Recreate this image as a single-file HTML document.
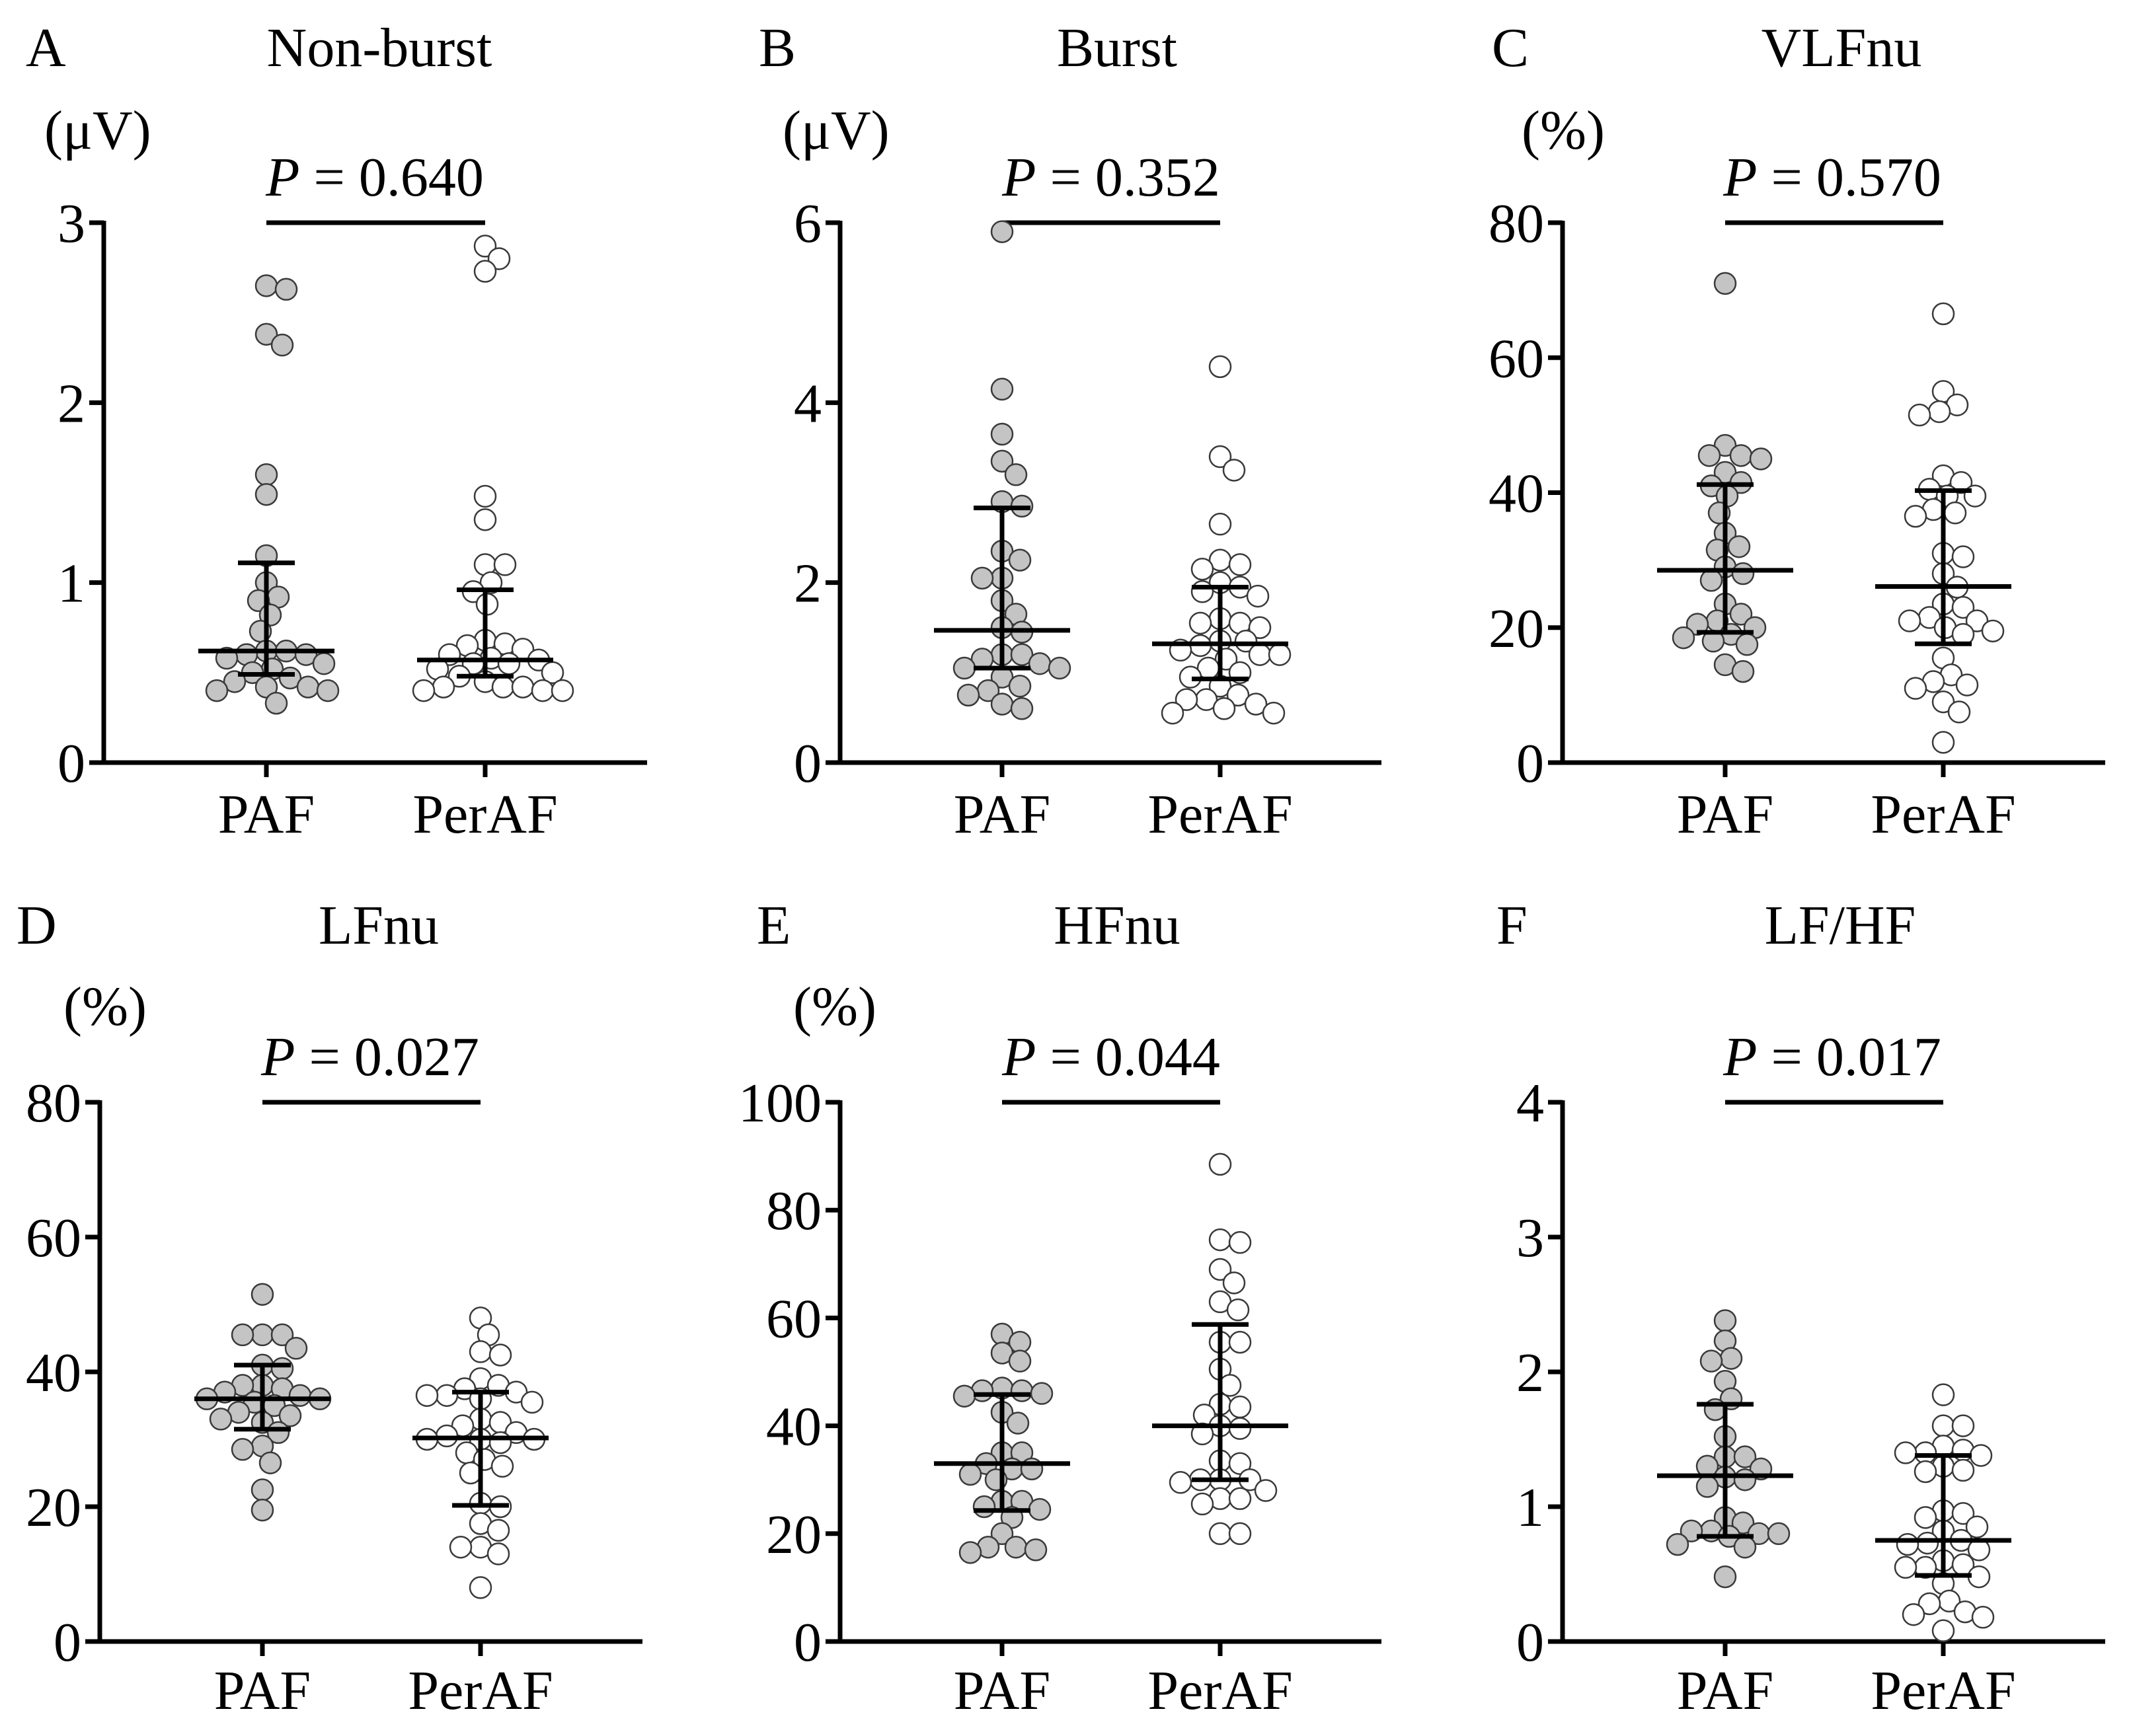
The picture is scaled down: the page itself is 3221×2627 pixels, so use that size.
<!DOCTYPE html>
<html><head><meta charset="utf-8">
<style>
html,body{margin:0;padding:0;background:#fff;}
svg{display:block;}
text{font-family:"Liberation Serif",serif;fill:#000;}
</style></head>
<body>
<svg id="fig" width="3221" height="2627" viewBox="0 0 3221 2627" xmlns="http://www.w3.org/2000/svg"></svg>
<script>
// ---- data ----
const categories = ["PAF", "PerAF"];
const panelLetters = ["A","B","C","D","E","F"];
const panelTitles = ["Non-burst","Burst","VLFnu","LFnu","HFnu","LF/HF"];
const panelUnits = ["(\u03bcV)","(\u03bcV)","(%)","(%)","(%)",""];
const pValues = ["0.640","0.352","0.570","0.027","0.044","0.017"];
const yTicksA = [0,1,2,3];
const yTicksB = [0,2,4,6];
const yTicksC = [0,20,40,60,80];
const yTicksD = [0,20,40,60,80];
const yTicksE = [0,20,40,60,80,100];
const yTicksF = [0,1,2,3,4];

const pafA = [2.65,2.63,2.38,2.32,1.6,1.49,1.15,1.0,0.92,0.9,0.82,0.73,0.6,0.62,0.62,0.6,0.58,0.55,0.52,0.5,0.47,0.45,0.42,0.42,0.4,0.4,0.33];
const perA = [2.87,2.8,2.73,1.48,1.35,1.1,1.1,1.0,0.95,0.88,0.68,0.65,0.66,0.63,0.6,0.58,0.57,0.55,0.55,0.52,0.5,0.48,0.45,0.42,0.42,0.4,0.4,0.4,0.42];
const pafB = [5.9,4.15,3.65,3.35,3.2,2.9,2.85,2.35,2.25,2.05,2.05,1.8,1.65,1.5,1.45,1.2,1.2,1.15,1.1,1.05,1.05,0.95,0.85,0.8,0.75,0.65,0.6];
const perB = [4.4,3.4,3.25,2.65,2.25,2.2,2.15,2.0,1.95,1.9,1.85,1.6,1.55,1.55,1.5,1.35,1.35,1.3,1.25,1.2,1.2,1.15,1.05,1.0,0.95,0.85,0.75,0.7,0.7,0.65,0.6,0.55,0.55];
const pafC = [71,47,45.5,45.5,45,43,41.5,41,39.5,37,34,32,31.5,29,28,27,23.5,22,21,20.5,20,19,18.5,18,17.5,14.5,13.5];
const perC = [66.5,55,53,52,51.5,42.5,41.5,40.5,39.5,39.5,37.5,37,36.5,31,30.5,28,26,23.5,23,21.5,21,21,20,19.5,19,15.5,13,12,11.5,11,9,7.5,3];
const pafD = [51.5,45.5,45.5,45.5,43.5,41,40.5,38,38,37.5,37,36.5,36,36,35.5,35,34,33.5,33,32.5,31,29,28.5,26.5,22.5,19.5];
const perD = [48,45.5,43,42.5,39,38,37.5,37,36.5,36.5,36,35.5,33,32.5,32,31,30.5,30,30,30,29.5,28,27,26,25,20.5,20,17.5,16.5,14,14,13,8];
const pafE = [57,55.5,53.5,52,47,46.5,46.5,46,45.5,42.5,40.5,35,35,33,32,32,31,30,26,26,25,24.5,23,20,17.5,17.5,17,16.5];
const perE = [88.5,74.5,74,69,66.5,63,61.5,55.5,55.5,50.5,47.5,44,43.5,42,40,39.5,38.5,33.5,33,30,30,30,29.5,28,26.5,26.5,25.5,20,20];
const pafF = [2.38,2.23,2.1,2.08,1.93,1.8,1.72,1.52,1.37,1.37,1.3,1.28,1.22,1.2,1.15,0.92,0.88,0.82,0.82,0.8,0.8,0.78,0.72,0.7,0.48];
const perF = [1.83,1.6,1.6,1.45,1.42,1.4,1.4,1.38,1.3,1.27,1.26,0.97,0.95,0.92,0.85,0.82,0.75,0.73,0.72,0.68,0.6,0.57,0.55,0.55,0.48,0.43,0.3,0.28,0.22,0.2,0.18,0.08];
// median, Q1, Q3 per group
const statsPAF = [[0.62,0.49,1.11],[1.47,1.05,2.83],[28.5,19.3,41.2],[36,31.5,41],[33,24.3,45.8],[1.23,0.78,1.76]];
const statsPer = [[0.57,0.48,0.96],[1.32,0.93,1.95],[26.1,17.6,40.3],[30.2,20.2,37],[40,30,58.8],[0.75,0.49,1.38]];

const pafSeries = [pafA,pafB,pafC,pafD,pafE,pafF];
const perSeries = [perA,perB,perC,perD,perE,perF];
const tickSets = [yTicksA,yTicksB,yTicksC,yTicksD,yTicksE,yTicksF];

// ---- layout ----
const layout = [
 {ax:157, x0:403, x1:734, end:979, top:337, bot:1154, letterX:39, titleX:574, unitX:67, pX:567, rowT:100, rowU:225, rowP:296, rowC:1260},
 {ax:1271, x0:1516, x1:1846, end:2090, top:337, bot:1154, letterX:1148, titleX:1690, unitX:1184, pX:1681, rowT:100, rowU:225, rowP:296, rowC:1260},
 {ax:2364, x0:2610, x1:2940, end:3185, top:337, bot:1154, letterX:2257, titleX:2786, unitX:2302, pX:2772, rowT:100, rowU:225, rowP:296, rowC:1260},
 {ax:151, x0:397, x1:727, end:972, top:1668, bot:2484, letterX:25, titleX:573, unitX:96, pX:560, rowT:1428, rowU:1551, rowP:1627, rowC:2586},
 {ax:1271, x0:1516, x1:1846, end:2090, top:1668, bot:2484, letterX:1145, titleX:1690, unitX:1200, pX:1681, rowT:1428, rowU:1551, rowP:1627, rowC:2586},
 {ax:2364, x0:2610, x1:2940, end:3185, top:1668, bot:2484, letterX:2264, titleX:2784, unitX:2302, pX:2772, rowT:1428, rowU:1551, rowP:1627, rowC:2586}
];
const NS = "http://www.w3.org/2000/svg";
const svg = document.getElementById("fig");
const R = 16, LW = 7, FS = 84;

function mk(tag, attrs, parent){
  const e = document.createElementNS(NS, tag);
  for (const k in attrs) e.setAttribute(k, attrs[k]);
  parent.appendChild(e);
  return e;
}
function line(p, x1,y1,x2,y2,w){ return mk("line",{x1:x1,y1:y1,x2:x2,y2:y2,stroke:"#000","stroke-width":w},p); }

function beeswarm(vals, yScale){
  const sorted = vals.slice().sort((a,b)=>b-a);
  const placed = [];
  const out = [];
  for (const v of sorted){
    const y = yScale(v);
    let off = 0;
    for (let k=0;k<400;k++){
      const cand = (k===0)?0:((k%2===1)?1:-1)*Math.ceil(k/2)*3;
      let ok = true;
      for (const p of placed){
        const dx = p.dx-cand, dy = p.y-y;
        if (dx*dx+dy*dy < (2*R-4)*(2*R-4)) { ok=false; break; }
      }
      if (ok){ off = cand; break; }
    }
    placed.push({dx:off,y:y});
    out.push({v:v,dx:off});
  }
  return out;
}

layout.forEach((L, i) => {
  const g = mk("g",{},svg);
  
  
  const ticks = tickSets[i];
  const yMax = ticks[ticks.length-1];
  const yScale = v => L.bot - (v / yMax) * (L.bot - L.top);
  const xCat = [L.x0, L.x1];

  let t = mk("text",{x:L.letterX, y:L.rowT, "font-size":FS},g); t.textContent = panelLetters[i];
  
  
  t = mk("text",{x:L.titleX, y:L.rowT, "font-size":FS, "text-anchor":"middle"},g); t.textContent = panelTitles[i];
  
  
  if (panelUnits[i]){
    t = mk("text",{x:L.unitX, y:L.rowU, "font-size":FS},g); t.textContent = panelUnits[i];
    
    
  }
  t = mk("text",{x:L.pX, y:L.rowP, "font-size":FS, "text-anchor":"middle"},g);
  const ts = mk("tspan",{"font-style":"italic"},t); ts.textContent = "P";
  const ts2 = mk("tspan",{},t); ts2.textContent = " = " + pValues[i];
  
  
  let b = line(g, L.x0, L.top, L.x1, L.top, LW);
  
  

  // axes
  let a = line(g, L.ax, L.top-3, L.ax, L.bot+3, LW);
  
  
  a = line(g, L.ax-22, L.bot, L.end, L.bot, LW);
  
  
  ticks.forEach(tv => {
    const y = yScale(tv);
    const tk = line(g, L.ax-22, y, L.ax, y, LW);
    
    
    const tl = mk("text",{x:L.ax-28, y:y+29, "font-size":FS, "text-anchor":"end"},g);
    tl.textContent = tv;
    
    
  });
  categories.forEach((c, ci) => {
    const tk = line(g, xCat[ci], L.bot, xCat[ci], L.bot+22, LW);
    
    
    const cl = mk("text",{x:xCat[ci], y:L.rowC, "font-size":FS, "text-anchor":"middle"},g);
    cl.textContent = c;
    
    
  });

  // points
  [pafSeries[i], perSeries[i]].forEach((vals, ci) => {
    const pts = beeswarm(vals, yScale);
    pts.forEach(p => {
      const c = mk("circle",{cx:xCat[ci]+p.dx, cy:yScale(p.v), r:R, fill: ci===0 ? "#c4c4c4" : "#ffffff", stroke:"#3a3a3a", "stroke-width":2.5},g);
      
      
    });
  });
  // median & IQR
  [statsPAF[i], statsPer[i]].forEach((s, ci) => {
    const x = xCat[ci];
    const eg = mk("g",{},g);
    
    
    line(eg, x, yScale(s[1]), x, yScale(s[2]), LW);
    line(eg, x-43, yScale(s[1]), x+43, yScale(s[1]), LW);
    line(eg, x-43, yScale(s[2]), x+43, yScale(s[2]), LW);
    line(eg, x-103, yScale(s[0]), x+103, yScale(s[0]), LW);
  });
});
</script>
</body></html>
